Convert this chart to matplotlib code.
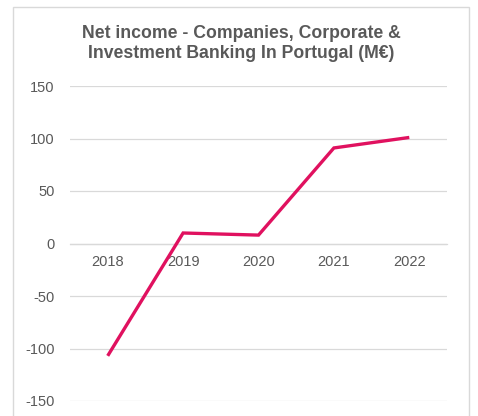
import matplotlib
matplotlib.use("Agg")
import matplotlib.pyplot as plt
from matplotlib.patches import Rectangle

years = ["2018", "2019", "2020", "2021", "2022"]
net_income = [-107, 10, 8, 91, 101]
y_ticks = [-150, -100, -50, 0, 50, 100, 150]

plt.rcParams["font.family"] = ["Liberation Sans", "DejaVu Sans"]

W, H = 478, 416
fig = plt.figure(figsize=(W / 100, H / 100), dpi=100)

# outer chart frame
fig.patches.append(Rectangle((13 / W, -0.05), (469 - 13) / W, 1.05 - 7 / H,
                             transform=fig.transFigure, fill=False,
                             edgecolor="#d9d9d9", linewidth=1.0))

ax = fig.add_axes([70 / W, 1 - 401 / H, (447 - 70) / W, (401 - 86) / H])
x = list(range(len(years)))
ax.plot(x, net_income, color="#E0115F", linewidth=2.4, solid_capstyle="butt",
        solid_joinstyle="miter", zorder=3)

ax.set_xlim(-0.5, len(years) - 0.5)
ax.set_ylim(-150, 150)
ax.set_yticks(y_ticks)
ax.set_yticklabels([str(v) for v in y_ticks])
ax.set_xticks(x)
ax.set_xticklabels(years)

ax.grid(axis="y", color="#d9d9d9", linewidth=0.9)
ax.set_axisbelow(True)
for side in ["top", "right", "left"]:
    ax.spines[side].set_visible(False)
ax.spines["bottom"].set_position(("data", 0))
ax.spines["bottom"].set_color("#d9d9d9")
ax.spines["bottom"].set_linewidth(0.9)

ax.tick_params(axis="y", length=0, pad=11, labelsize=10.5, labelcolor="#595959")
ax.tick_params(axis="x", length=0, pad=8, labelsize=10.5, labelcolor="#595959")

fig.text(241 / W, 1 - 43.5 / H,
         "Net income - Companies, Corporate &\nInvestment Banking In Portugal (M€)",
         ha="center", va="center", fontsize=12.7, fontweight="bold",
         color="#595959", linespacing=1.3)

fig.savefig("out.png", dpi=100)
